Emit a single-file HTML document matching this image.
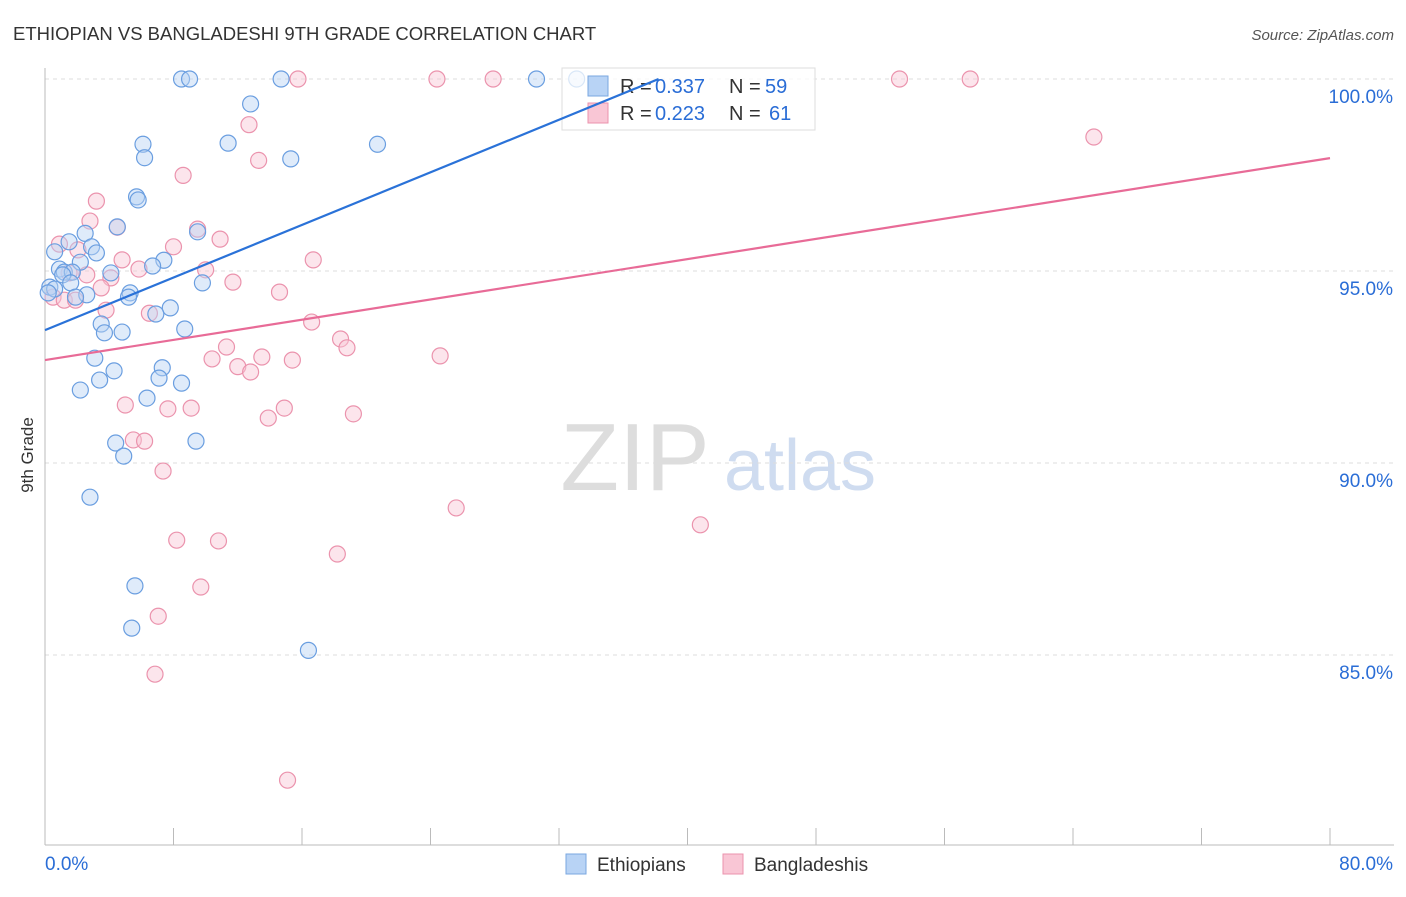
<!DOCTYPE html>
<html><head><meta charset="utf-8"><style>
body{margin:0;background:#fff;font-family:"Liberation Sans",sans-serif}
svg text{font-family:"Liberation Sans",sans-serif}
</style></head><body>
<svg id="c" width="1406" height="892" xmlns="http://www.w3.org/2000/svg">
<text x="13" y="40" font-size="18.5" fill="#333">ETHIOPIAN VS BANGLADESHI 9TH GRADE CORRELATION CHART</text>
<text x="1394" y="40" font-size="15" fill="#555" font-style="italic" text-anchor="end">Source: ZipAtlas.com</text>
<text x="33" y="455" font-size="17" fill="#333" transform="rotate(-90 33 455)" text-anchor="middle">9th Grade</text>
<g><text x="635" y="490" font-size="96" fill="#ddd" font-family="Liberation Serif" text-anchor="middle">ZIP</text><text x="800" y="490" font-size="72" fill="#cfdcf0" text-anchor="middle">atlas</text></g>
<g id="grid"></g><g id="axes"></g><g id="pts"></g>
<g>
<rect x="562" y="68" width="253" height="62" fill="#fff" fill-opacity="0.75" stroke="#ddd"/>
<rect x="588" y="76" width="20" height="20" fill="#b8d3f5" stroke="#7aa7e0"/>
<rect x="588" y="103" width="20" height="20" fill="#f9c6d5" stroke="#eb93ad"/>
<text y="93" font-size="20" fill="#333"><tspan x="620">R =</tspan><tspan x="655" fill="#2a6dd6">0.337</tspan><tspan x="729">N =</tspan><tspan x="765" fill="#2a6dd6">59</tspan></text>
<text y="120" font-size="20" fill="#333"><tspan x="620">R =</tspan><tspan x="655" fill="#2a6dd6">0.223</tspan><tspan x="729">N =</tspan><tspan x="769" fill="#2a6dd6">61</tspan></text>
</g>
<g id="lines"></g>
<g>
<rect x="566" y="854" width="20" height="20" fill="#b8d3f5" stroke="#7aa7e0"/>
<text x="597" y="871" font-size="19" fill="#333">Ethiopians</text>
<rect x="723" y="854" width="20" height="20" fill="#f9c6d5" stroke="#eb93ad"/>
<text x="754" y="871" font-size="19" fill="#333">Bangladeshis</text>
</g>
</svg>
<script>
const yTicks=[100,95,90,85];
const yTickLabels=["100.0%","95.0%","90.0%","85.0%"];
const xTickLabels=["0.0%","80.0%"];
const ethX=[8.5,9,14.7,30.6,33.1,12.8,6.1,11.4,20.7,6.2,15.3,5.7,5.8,4.5,9.5,2.5,1.5,2.9,0.6,3.2,2.2,7.4,6.7,0.9,1.2,1.7,4.1,1.1,1.6,9.8,0.3,0.6,0.2,5.3,5.2,2.6,1.9,7.8,6.9,3.5,8.7,3.7,4.8,3.1,7.3,4.3,7.1,3.4,8.5,2.2,6.35,4.4,9.4,4.9,2.8,5.6,5.4,16.4];
const ethY=[100,100,100,100,100,99.35,98.3,98.33,98.3,97.95,97.92,96.93,96.85,96.15,96.02,95.98,95.76,95.63,95.5,95.47,95.23,95.28,95.13,95.05,94.97,94.97,94.95,94.9,94.69,94.69,94.58,94.53,94.43,94.43,94.32,94.38,94.32,94.04,93.88,93.62,93.49,93.39,93.41,92.73,92.48,92.4,92.21,92.16,92.08,91.9,91.69,90.52,90.57,90.18,89.11,86.8,85.7,85.12];
const banX=[15.75,24.4,27.9,53.2,57.6,65.3,12.7,13.3,8.6,3.2,2.8,9.5,4.5,10.9,0.9,8.0,2.05,16.7,4.8,5.85,10.0,1.5,2.6,4.1,11.7,3.5,14.6,0.5,1.2,1.9,3.8,6.5,16.6,18.4,18.8,11.3,10.4,13.5,15.4,24.6,12.0,12.8,5.0,7.65,9.1,14.9,13.9,19.2,5.5,6.2,7.35,25.6,40.8,8.2,10.8,18.2,9.7,7.05,6.85,15.1];
const banY=[100,100,100,100,100,98.49,98.81,97.88,97.49,96.82,96.3,96.09,96.14,95.83,95.7,95.63,95.55,95.29,95.29,95.05,95.03,94.95,94.9,94.82,94.71,94.56,94.45,94.32,94.24,94.24,93.98,93.9,93.67,93.23,93.0,93.02,92.71,92.76,92.68,92.79,92.51,92.37,91.51,91.41,91.43,91.43,91.17,91.28,90.6,90.57,89.79,88.83,88.39,87.99,87.97,87.63,86.77,86.01,84.5,81.74];
const ethLine=[[0,93.46],[38.2,100]];
const banLine=[[0,92.68],[80,97.94]];
const X=v=>45+v*16.0625, Y=v=>79+(100-v)*38.4;
const NS='http://www.w3.org/2000/svg';
function mk(p,t,a){const e=document.createElementNS(NS,t);for(const k in a)e.setAttribute(k,a[k]);document.getElementById(p).appendChild(e);return e;}
yTicks.forEach((t,i)=>{
 const g=mk('grid','line',{x1:45,x2:1394,y1:Y(t),y2:Y(t),stroke:'#ddd','stroke-dasharray':'4,4'});
 
 
 const l=mk('axes','text',{x:1393,y:Y(t)+24,'font-size':19,fill:'#2a6dd6','text-anchor':'end'});
 l.textContent=yTickLabels[i];
 
 
});
const ax=mk('axes','line',{x1:45,x2:1394,y1:845,y2:845,stroke:'#bbb'});


const ay=mk('axes','line',{x1:45,x2:45,y1:68,y2:845,stroke:'#bbb'});


for(let i=0;i<=10;i++){const t=mk('axes','line',{x1:X(i*8),x2:X(i*8),y1:828,y2:845,stroke:'#bbb'});
 
 }
[[0,45,'start'],[80,1393,'end']].forEach((d,i)=>{const l=mk('axes','text',{x:d[1],y:870,'font-size':19,fill:'#2a6dd6','text-anchor':d[2]});l.textContent=xTickLabels[i];
 
 });
function pts(xs,ys,f,s,n){xs.forEach((x,i)=>{const c=mk('pts','circle',{cx:X(x),cy:Y(ys[i]),r:8,fill:f,'fill-opacity':0.45,stroke:s,'stroke-width':1.2});
 
 });}
pts(banX,banY,'#f9c6d5','#eb93ad','bangladeshi-point');
pts(ethX,ethY,'#b8d3f5','#6a9ee0','ethiopian-point');
function ln(d,c,n){const l=mk('lines','line',{x1:X(d[0][0]),y1:Y(d[0][1]),x2:X(d[1][0]),y2:Y(d[1][1]),stroke:c,'stroke-width':2.2});
 
 }
ln(ethLine,'#2a72d8','ethiopian-trend-line');
ln(banLine,'#e86b97','bangladeshi-trend-line');
</script>
</body></html>
